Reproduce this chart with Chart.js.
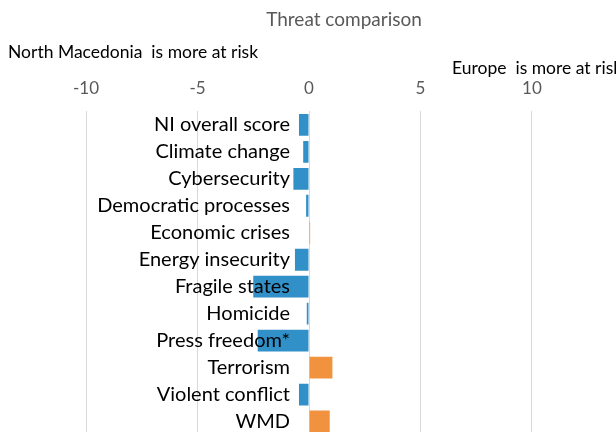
<!DOCTYPE html>
<html>
<head>
<meta charset="utf-8">
<script src="https://cdn.jsdelivr.net/npm/chart.js@4"></script>
<style>
  html, body { margin:0; padding:0; background:#fff; overflow:hidden; }
  #wrap { position:relative; width:616px; height:435px; }
</style>
</head>
<body>
<div id="wrap"><canvas id="chart-threat"></canvas></div>
<script>
// data (negative = North Macedonia more at risk)
const categories = ['NI overall score', 'Climate change', 'Cybersecurity', 'Democratic processes',
  'Economic crises', 'Energy insecurity', 'Fragile states', 'Homicide', 'Press freedom*',
  'Terrorism', 'Violent conflict', 'WMD'];
const diffValues = [-0.45, -0.26, -0.7, -0.13, 0.05, -0.63, -2.5, -0.1, -2.3, 1.05, -0.45, 0.93];
const xTicks = [-10, -5, 0, 5, 10];

const FONT = "Lato, 'Open Sans', sans-serif";
const blue = '#3190c8', orange = '#f1923e';

// category names sit just left of the zero line, over the bars
const catLabels = {
  id: 'catLabels',
  afterDatasetsDraw(chart) {
    const { ctx, scales: { x, y } } = chart;
    const x0 = x.getPixelForValue(0);
    ctx.save();
    ctx.font = '20px ' + FONT;
    ctx.fillStyle = '#000';
    ctx.textAlign = 'right';
    ctx.textBaseline = 'middle';
    categories.forEach((c, i) => ctx.fillText(c, x0 - 19, y.getPixelForTick(i)));
    ctx.restore();
  }
};

// title and the two side notes
const notes = {
  id: 'notes',
  afterDraw(chart) {
    const ctx = chart.ctx;
    ctx.save();
    ctx.textBaseline = 'middle';
    ctx.textAlign = 'center';
    ctx.font = '19px ' + FONT;
    ctx.fillStyle = '#595959';
    ctx.fillText('Threat comparison', 344, 20);
    ctx.textAlign = 'left';
    ctx.font = '17.5px ' + FONT;
    ctx.fillStyle = '#000';
    ctx.fillText('North Macedonia  is more at risk', 8, 52);
    ctx.fillText('Europe  is more at risk', 452, 68);
    ctx.restore();
  }
};

new Chart(document.getElementById('chart-threat'), {
  type: 'bar',
  data: {
    labels: categories,
    datasets: [{
      data: diffValues,
      backgroundColor: diffValues.map(v => v < 0 ? blue : orange),
      borderWidth: 0,
      categoryPercentage: 1,
      barPercentage: 0.81
    }]
  },
  plugins: [catLabels, notes],
  options: {
    indexAxis: 'y',
    responsive: true,
    maintainAspectRatio: false,
    animation: false,
    layout: { padding: { top: 65, left: 0, right: 0, bottom: 0 } },
    plugins: { legend: { display: false }, title: { display: false }, tooltip: { enabled: false } },
    scales: {
      x: {
        position: 'top',
        min: -13.86,
        max: 13.77,
        afterBuildTicks: s => { s.ticks = xTicks.map(v => ({ value: v })); },
        grid: { color: '#d9d9d9', lineWidth: 1, drawTicks: false },
        border: { display: false },
        ticks: { color: '#595959', font: { family: FONT, size: 17 }, padding: 13, maxRotation: 0 }
      },
      y: {
        display: false,
        offset: true,
        grid: { display: false }
      }
    }
  }
});
</script>
</body>
</html>
